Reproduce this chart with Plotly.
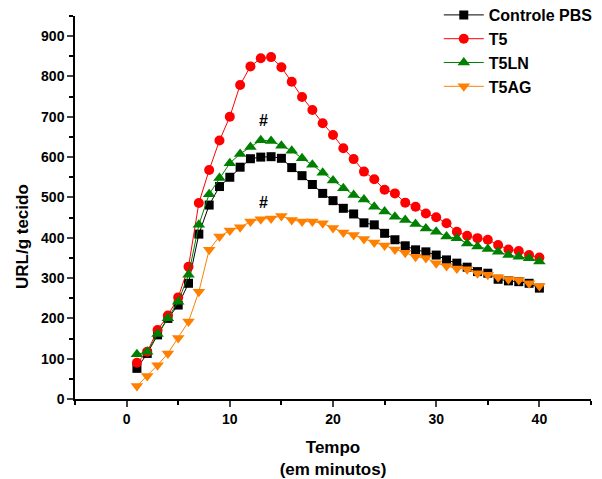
import plotly.graph_objects as go

tempo = list(range(1, 41))
controle_pbs = [76, 113, 159, 200, 233, 287, 409, 481, 527, 550,
                575, 596, 600, 601, 597, 574, 554, 532, 510, 492,
                473, 459, 437, 432, 411, 395, 380, 370, 365, 357,
                345, 337, 327, 316, 312, 297, 293, 291, 287, 275]
t5 = [90, 117, 171, 207, 252, 328, 486, 568, 641, 700,
      779, 825, 845, 848, 823, 787, 749, 717, 684, 655,
      622, 595, 564, 545, 519, 510, 487, 477, 460, 451,
      436, 415, 405, 399, 395, 382, 371, 367, 357, 351]
t5ln = [111, 117, 161, 200, 241, 308, 432, 508, 548, 585,
        608, 625, 642, 640, 628, 616, 597, 581, 561, 542,
        523, 506, 495, 477, 465, 452, 444, 434, 423, 415,
        403, 399, 386, 378, 372, 365, 357, 353, 349, 341]
t5ag = [32, 57, 84, 113, 151, 192, 266, 370, 403, 418,
        426, 440, 446, 448, 454, 444, 440, 440, 436, 424,
        413, 407, 397, 388, 381, 371, 363, 353, 350, 337,
        330, 324, 322, 312, 308, 302, 297, 295, 287, 280]

marks_x = [13.3, 13.3]
marks_y = [692, 488]

series = [
    ("Controle PBS", controle_pbs, "#000000", "square", 9),
    ("T5", t5, "#FF0000", "circle", 10),
    ("T5LN", t5ln, "#008000", "triangle-up", 11),
    ("T5AG", t5ag, "#FF8000", "triangle-down", 11),
]

fig = go.Figure()
for name, ys, color, sym, size in series:
    fig.add_trace(go.Scatter(
        x=tempo, y=ys, name=name, mode="lines+markers",
        line=dict(color=color, width=1),
        marker=dict(symbol=sym, size=size, color=color, line=dict(width=0)),
    ))

for xx, yy in zip(marks_x, marks_y):
    fig.add_annotation(x=xx, y=yy, text="<b>#</b>", showarrow=False,
                       font=dict(size=16, color="black", family="Liberation Sans"))

fig.add_annotation(xref="paper", yref="paper", x=-0.123, y=0.423,
                   text="<b>URL/g tecido</b>", textangle=-90, showarrow=False,
                   font=dict(size=17, color="black", family="Liberation Sans"))

fig.update_layout(
    width=602, height=479,
    margin=dict(l=75, r=11, t=16, b=80, autoexpand=False),
    paper_bgcolor="white", plot_bgcolor="white",
    font=dict(family="Liberation Sans", color="black"),
    showlegend=True,
    legend=dict(x=0.705, y=1.047, xanchor="left", yanchor="top",
                font=dict(size=16, weight="bold", family="Liberation Sans"),
                bgcolor="rgba(0,0,0,0)", tracegroupgap=0, itemwidth=40),
    xaxis=dict(range=[-5, 45], tickvals=[0, 10, 20, 30, 40], ticks="outside",
               ticklen=6, tickwidth=1.5, showline=True, linewidth=1.5, linecolor="black",
               showgrid=False, zeroline=False, automargin=False,
               tickfont=dict(size=14, weight="bold"),
               minor=dict(tickvals=[-5, 5, 15, 25, 35, 45], ticks="outside", ticklen=4,
                          tickwidth=1.5, tickcolor="black"),
               title=dict(text="<b>Tempo<br>(em minutos)</b>", font=dict(size=17), standoff=16)),
    yaxis=dict(range=[0, 950], tickvals=list(range(0, 901, 100)), ticks="outside",
               ticklen=6, tickwidth=1.5, showline=True, linewidth=1.5, linecolor="black",
               showgrid=False, zeroline=False, automargin=False,
               tickfont=dict(size=14, weight="bold"),
               minor=dict(tickvals=list(range(50, 951, 100)), ticks="outside", ticklen=4,
                          tickwidth=1.5, tickcolor="black")),
)

fig.write_html("out.html")
